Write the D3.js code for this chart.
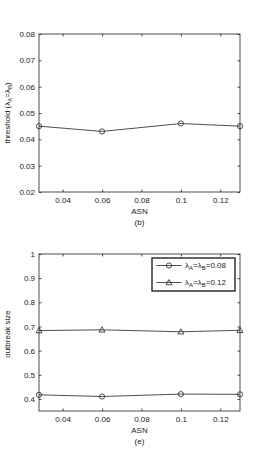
<!DOCTYPE html>
<html><head><meta charset="utf-8">
<script src="https://cdn.jsdelivr.net/npm/d3@7"></script>
<style>body{margin:0;background:#fff}svg{display:block;font-family:"Liberation Sans",Arial,sans-serif}</style>
</head><body>
<svg id="c" width="264" height="463"></svg>
<script>
const asn = [0.028, 0.06, 0.1, 0.13];
const xTicks = [0.04, 0.06, 0.08, 0.1, 0.12];
const thresholdVals = [0.045, 0.043, 0.046, 0.045];
const yTicksB = [0.02, 0.03, 0.04, 0.05, 0.06, 0.07, 0.08];
const outbreak008 = [0.417, 0.410, 0.420, 0.419];
const outbreak012 = [0.683, 0.686, 0.678, 0.684];
const yTicksE = [0.4, 0.5, 0.6, 0.7, 0.8, 0.9, 1];
const legendLabels = ["0.08", "0.12"];

const svg = d3.select("#c");
const ink = "#222";
const fs = 8;

function panel(top, bottom, yDomain, yTicks, yFmt, series, ylabelFn, ylabelCY, caption) {
  const L = 39, R = 240;
  const x = d3.scaleLinear().domain([0.028, 0.13]).range([L, R]);
  const y = d3.scaleLinear().domain(yDomain).range([bottom, top]);
  const g = svg.append("g");
  g.append("rect").attr("x", L).attr("y", top).attr("width", R - L).attr("height", bottom - top)
    .attr("fill", "none").attr("stroke", ink).attr("stroke-width", 0.8);
  const xa = d3.axisBottom(x).tickValues(xTicks).tickSizeInner(-2.5).tickSizeOuter(0).tickPadding(5)
    .tickFormat(d => String(+d.toFixed(2)));
  const gx = g.append("g").attr("transform", `translate(0,${bottom})`).call(xa);
  const xt = d3.axisTop(x).tickValues(xTicks).tickSizeInner(-2.5).tickSizeOuter(0).tickFormat("");
  const gxt = g.append("g").attr("transform", `translate(0,${top})`).call(xt);
  const ya = d3.axisLeft(y).tickValues(yTicks).tickSizeInner(-2.5).tickSizeOuter(0).tickPadding(4).tickFormat(yFmt);
  const gy = g.append("g").attr("transform", `translate(${L},0)`).call(ya);
  const yr = d3.axisRight(y).tickValues(yTicks).tickSizeInner(-2.5).tickSizeOuter(0).tickFormat("");
  const gyr = g.append("g").attr("transform", `translate(${R},0)`).call(yr);
  [gx, gxt, gy, gyr].forEach(a => {
    a.select(".domain").remove();
    a.selectAll("line").attr("stroke", ink).attr("stroke-width", 0.8);
    a.selectAll("text").attr("font-size", fs).attr("fill", ink).attr("font-family", "Liberation Sans, Arial, sans-serif");
  });
  series.forEach(s => {
    const line = d3.line().x((d, i) => x(asn[i])).y(d => y(d));
    g.append("path").datum(s.vals).attr("d", line).attr("fill", "none").attr("stroke", ink).attr("stroke-width", 0.8);
    s.vals.forEach((v, i) => drawMarker(g, s.marker, x(asn[i]), y(v)));
  });
  const cx = (L + R) / 2;
  g.append("text").attr("x", cx).attr("y", bottom + 21.5).attr("text-anchor", "middle")
    .attr("font-size", fs).attr("fill", ink).text("ASN");
  g.append("text").attr("x", cx).attr("y", bottom + 33).attr("text-anchor", "middle")
    .attr("font-size", fs).attr("fill", ink).text(caption);
  const yl = g.append("text").attr("transform", `translate(10,${ylabelCY}) rotate(-90)`)
    .attr("text-anchor", "middle").attr("font-size", fs).attr("fill", ink);
  ylabelFn(yl);
  return {x, y};
}

function drawMarker(g, type, cx, cy) {
  if (type === "circle") {
    g.append("circle").attr("cx", cx).attr("cy", cy).attr("r", 2.6)
      .attr("fill", "none").attr("stroke", ink).attr("stroke-width", 0.8);
  } else {
    const r = 3;
    g.append("path").attr("d", `M${cx},${cy - r}L${cx + r},${cy + r * 0.75}L${cx - r},${cy + r * 0.75}Z`)
      .attr("fill", "none").attr("stroke", ink).attr("stroke-width", 0.8);
  }
}

function lambdaLabel(t, prefix, suffix) {
  if (prefix) t.append("tspan").text(prefix);
  t.append("tspan").text("λ");
  t.append("tspan").attr("font-size", 6).attr("dy", 2).text("A");
  t.append("tspan").attr("dy", -2).text("=λ");
  t.append("tspan").attr("font-size", 6).attr("dy", 2).text("B");
  t.append("tspan").attr("dy", -2).text(suffix);
}

panel(34, 192, [0.02, 0.08], yTicksB, d => d.toFixed(2),
  [{vals: thresholdVals, marker: "circle"}],
  t => lambdaLabel(t, "threshold (", ")"), 113, "(b)");

panel(254, 411, [0.35, 1], yTicksE, d => String(+d.toFixed(1)),
  [{vals: outbreak008, marker: "circle"}, {vals: outbreak012, marker: "triangle"}],
  t => t.text("outbreak size"), 334, "(e)");

const lg = svg.append("g");
lg.append("rect").attr("x", 152).attr("y", 258).attr("width", 83).attr("height", 33)
  .attr("fill", "#fff").attr("stroke", ink).attr("stroke-width", 1.4);
const markers = ["circle", "triangle"];
[265.5, 282.5].forEach((yy, i) => {
  lg.append("line").attr("x1", 156.5).attr("x2", 181.5).attr("y1", yy).attr("y2", yy)
    .attr("stroke", ink).attr("stroke-width", 0.8);
  drawMarker(lg, markers[i], 169, yy);
  const t = lg.append("text").attr("x", 185).attr("y", yy + 2.5).attr("font-size", fs).attr("fill", ink);
  lambdaLabel(t, "", "=" + legendLabels[i]);
});
</script>
</body></html>
